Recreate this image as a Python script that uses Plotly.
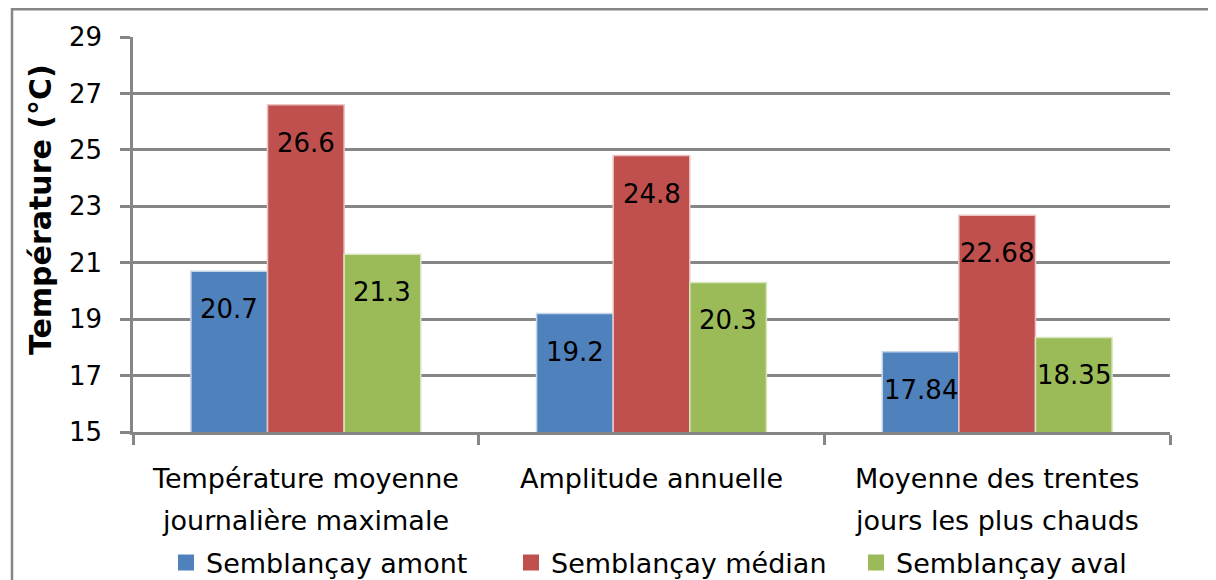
import plotly.graph_objects as go

# ---- data ----
categories = ["Température moyenne journalière maximale",
              "Amplitude annuelle",
              "Moyenne des trentes jours les plus chauds"]
category_lines = [["Température moyenne", "journalière maximale"],
                  ["Amplitude annuelle"],
                  ["Moyenne des trentes", "jours les plus chauds"]]
series_names = ["Semblançay amont", "Semblançay médian", "Semblançay aval"]
amont = [20.7, 19.2, 17.84]
median = [26.6, 24.8, 22.68]
aval = [21.3, 20.3, 18.35]
y_ticks = [15, 17, 19, 21, 23, 25, 27, 29]

# ---- style ----
W, H = 1216, 580
OFF = 8  # page body margin
PL, PR, PT, PB = 133 - OFF, 1170 - OFF, 37 - OFF, 432 - OFF  # plot area in figure px
ML, MR, MT, MB = PL, W - PR, PT, H - PB
FONT = "DejaVu Sans"
GRID = "#868686"
colors = ["#4F81BD", "#C0504D", "#9BBB59"]
edge_colors = ["#C6D6EA", "#EBC4C3", "#D8E5C0"]
BARGAP = 0.335

series = [amont, median, aval]
fig = go.Figure()
for name, vals, c, ec in zip(series_names, series, colors, edge_colors):
    fig.add_trace(go.Bar(x=categories, y=vals, name=name, marker_color=c,
                         marker_line=dict(color=ec, width=1.5), showlegend=False))
# legend entries with larger square symbols
for name, c in zip(series_names, colors):
    fig.add_trace(go.Scatter(x=[None], y=[None], mode="markers", name=name,
                             marker=dict(symbol="square", size=18, color=c)))

plot_w = PR - PL
plot_h = PB - PT


def px_x(x):  # reference-screen x -> paper
    return (x - OFF - PL) / plot_w


def px_y(y):  # reference-screen y -> paper
    return (PB - (y - OFF)) / plot_h


cat_w = plot_w / len(categories)
bar_w = cat_w * (1 - BARGAP) / len(series)
annotations = []
for i, vals in enumerate(series):
    for cat, v in zip(categories, vals):
        annotations.append(dict(x=cat, y=v, xref="x", yref="y", text=str(v),
                                showarrow=False, xshift=(i - 1) * bar_w, yshift=-38,
                                yanchor="middle", font=dict(family=FONT, size=26, color="#000")))
# category labels
for cat, lines in zip(categories, category_lines):
    for j, line in enumerate(lines):
        annotations.append(dict(x=cat, y=0, xref="x", yref="paper", text=line,
                                showarrow=False, yshift=-46 - 42 * j, yanchor="middle",
                                font=dict(family=FONT, size=27, color="#000")))
# y axis title
annotations.append(dict(x=px_x(40), y=px_y(210),
                        xref="paper", yref="paper", text="<b>Température (°C)</b>",
                        textangle=-90, showarrow=False, xanchor="center", yanchor="middle",
                        font=dict(family=FONT, size=30, color="#000")))

fig.update_layout(
    width=W, height=H,
    margin=dict(l=ML, r=MR, t=MT, b=MB, autoexpand=False),
    paper_bgcolor="white", plot_bgcolor="white",
    barmode="group", bargap=BARGAP, bargroupgap=0,
    font=dict(family=FONT, color="#000"),
    annotations=annotations,
    legend=dict(orientation="h", x=px_x(166), xanchor="left",
                y=px_y(563), yanchor="middle",
                font=dict(family=FONT, size=27, color="#000"),
                entrywidth=300, entrywidthmode="pixels",
                bgcolor="rgba(0,0,0,0)"),
    shapes=[dict(type="rect", xref="paper", yref="paper",
                 x0=px_x(12), x1=px_x(1260),
                 y0=px_y(640), y1=px_y(9.2),
                 line=dict(color=GRID, width=2.5), fillcolor="rgba(0,0,0,0)", layer="below")],
)
fig.update_xaxes(showticklabels=False, ticks="outside", tickson="boundaries", ticklen=10,
                 tickwidth=2.5, tickcolor=GRID, showline=True, linecolor=GRID, linewidth=2.5,
                 showgrid=False, automargin=False)
fig.update_yaxes(range=[15, 29], tickvals=y_ticks, ticks="outside", ticklen=10, tickwidth=2.5,
                 tickcolor=GRID, showline=True, linecolor=GRID, linewidth=2.5,
                 showgrid=True, gridcolor=GRID, gridwidth=2.5, zeroline=False,
                 ticklabelstandoff=13, automargin=False,
                 tickfont=dict(family=FONT, size=26, color="#000"))

fig.write_html("out.html")
